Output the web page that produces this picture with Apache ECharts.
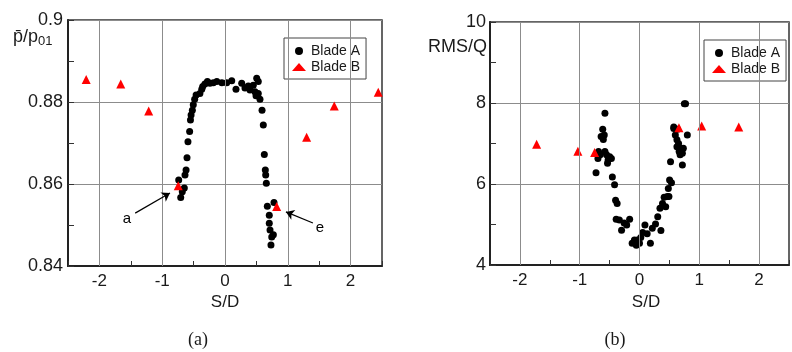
<!DOCTYPE html>
<html>
<head>
<meta charset="utf-8">
<script src="https://cdn.jsdelivr.net/npm/echarts@6/dist/echarts.min.js"></script>
<style>
html,body{margin:0;padding:0;background:#fff;}
#chart{width:792px;height:352px;}
</style>
</head>
<body>
<div id="chart"></div>
<script>
// (a) mean pressure p/p01 against S/D
var bladeA_p = [
	[-0.705,0.8567],[-0.68,0.8581],[-0.648,0.8590],[-0.737,0.8610],[-0.637,0.8622],[-0.62,0.8634],
	[-0.605,0.8664],[-0.59,0.8703],[-0.563,0.8728],[-0.55,0.8756],[-0.54,0.8768],[-0.52,0.8780],
	[-0.505,0.8793],[-0.483,0.8807],[-0.46,0.8817],[-0.40,0.8821],[-0.37,0.8831],[-0.355,0.8838],
	[-0.32,0.8844],[-0.28,0.8850],[-0.24,0.8846],[-0.186,0.8847],[-0.13,0.8850],[-0.05,0.8847],
	[0.027,0.8847],[0.107,0.8852],[0.175,0.8831],[0.266,0.8846],[0.318,0.8834],[0.371,0.8839],
	[0.398,0.8829],[0.45,0.8841],[0.478,0.8825],[0.505,0.8858],[0.53,0.8850],[0.494,0.8815],
	[0.53,0.8821],[0.557,0.8807],[0.59,0.8780],[0.61,0.8744],[0.626,0.8672],[0.642,0.8634],
	[0.648,0.8622],[0.658,0.8602],[0.674,0.8546],[0.78,0.8555],[0.705,0.8524],[0.705,0.8504],
	[0.717,0.8488],[0.77,0.8476],[0.744,0.8471],[0.732,0.8451]
]
var bladeB_p = [
	[-2.21,0.8855],[-1.66,0.8844],[-1.215,0.8778],[-0.744,0.8596],
	[0.823,0.8545],[1.30,0.8714],[1.74,0.8790],[2.44,0.8824]
]
// (b) RMS/Q against S/D
var bladeA_rms = [
	[-0.578,7.75],[-0.615,7.35],[-0.642,7.17],[-0.589,7.21],[-0.605,7.10],[-0.685,6.80],
	[-0.695,6.63],[-0.658,6.72],[-0.727,6.28],[-0.578,6.80],[-0.551,6.72],[-0.525,6.59],
	[-0.498,6.67],[-0.47,6.63],[-0.535,6.51],[-0.454,6.17],[-0.417,5.98],[-0.40,5.60],
	[-0.374,5.52],[-0.39,5.13],[-0.337,5.11],[-0.30,4.86],[-0.257,5.04],[-0.214,4.99],
	[-0.165,5.13],[-0.123,4.54],[-0.085,4.62],[-0.053,4.49],[-0.032,4.62],[0.0,4.54],
	[0.021,4.68],[0.053,4.80],[0.091,4.99],[0.128,4.77],[0.182,4.54],[0.214,4.91],
	[0.268,5.01],[0.305,5.19],[0.358,4.85],[0.342,5.40],[0.385,5.52],[0.412,5.67],
	[0.438,5.44],[0.465,5.69],[0.492,5.69],[0.482,5.89],[0.503,6.10],[0.535,6.03],
	[0.519,6.55],[0.573,7.37],[0.599,7.21],[0.626,7.09],[0.626,6.92],[0.653,7.00],
	[0.663,6.80],[0.679,6.72],[0.695,6.88],[0.717,6.76],[0.733,6.88],[0.717,6.47],
	[0.77,7.98],[0.75,7.98],[0.80,7.21],[0.637,7.35],[0.573,7.41]
]
var bladeB_rms = [
	[-1.72,6.98],[-1.03,6.81],[-0.75,6.78],[0.66,7.39],[1.04,7.43],[1.66,7.41]
]
var xGridValues = [-2,-1,0,1,2]
// annotation arrows in (a): tail -> head, and letter positions
var arrowA = [[-1.43,0.8529],[-0.876,0.8578]]
var arrowE = [[1.40,0.8505],[0.97,0.8532]]
var letterA = [-1.56,0.8514]
var letterE = [1.51,0.8492]

var font = 'Liberation Sans'
var ink = '#1a1a1a'

function xAxisOpt(idx){
	return {
		type: 'value', gridIndex: idx, min: -2.5, max: 2.5, interval: 0.5,
		axisLine: {show: true, onZero: false, lineStyle: {color: '#222', width: 2}},
		axisTick: {show: true, inside: true, length: 5, lineStyle: {color: '#333'}},
		axisLabel: {
			color: ink, fontFamily: font, fontSize: 17, margin: 7,
			formatter: function(v){ return Number.isInteger(v) ? String(v) : '' }
		},
		splitLine: {show: false}
	}
}
function yAxisOpt(idx, min, max, interval, margin){
	return {
		type: 'value', gridIndex: idx, min: min, max: max, interval: interval,
		axisLine: {show: true, onZero: false, lineStyle: {color: '#222', width: 2}},
		axisTick: {show: true, inside: true, length: 6, lineStyle: {color: '#333'}},
		minorTick: {show: true, splitNumber: 2, length: 6, lineStyle: {color: '#333'}},
		axisLabel: {color: ink, fontFamily: font, fontSize: 18, margin: margin},
		splitLine: {show: true, lineStyle: {color: '#8c8c8c', width: 1}}
	}
}
function gridLines(idx){
	return {
		name: 'grid' + idx, type: 'scatter', xAxisIndex: idx, yAxisIndex: idx, data: [], z: 1,
		silent: true,
		markLine: {
			silent: true, symbol: ['none','none'], label: {show: false},
			lineStyle: {color: '#8c8c8c', width: 1, type: 'solid'},
			data: xGridValues.map(function(v){ return {xAxis: v} })
		}
	}
}
function legendOpt(left, top){
	return {
		left: left, top: top, orient: 'vertical',
		borderColor: '#444', borderWidth: 1, backgroundColor: '#fff',
		padding: [6,6,5,8], itemGap: 2, itemWidth: 14, itemHeight: 8,
		textStyle: {color: ink, fontFamily: font, fontSize: 14},
		data: [{name: 'Blade A', icon: 'circle'}, {name: 'Blade B', icon: 'triangle'}]
	}
}

var chart = echarts.init(document.getElementById('chart'))
var option = {
	animation: false,
	backgroundColor: '#fff',
	grid: [
		{left: 68, top: 20, width: 314, height: 246, show: true, borderColor: '#333', borderWidth: 1.5},
		{left: 490, top: 22, width: 312, height: 243, show: true, borderColor: '#333', borderWidth: 1.5}
	],
	xAxis: [xAxisOpt(0), xAxisOpt(1)],
	yAxis: [yAxisOpt(0, 0.84, 0.9, 0.02, 5), yAxisOpt(1, 4, 10, 2, 4)],
	legend: [legendOpt(284, 38), legendOpt(704, 40)],
	series: [
		gridLines(0),
		gridLines(1),
		{
			name: 'Blade A', type: 'scatter', xAxisIndex: 0, yAxisIndex: 0, z: 3,
			symbol: 'circle', symbolSize: 7, itemStyle: {color: '#000', opacity: 1}, data: bladeA_p
		},
		{
			name: 'Blade B', type: 'scatter', xAxisIndex: 0, yAxisIndex: 0, z: 4,
			symbol: 'triangle', symbolSize: 9, itemStyle: {color: '#f00', opacity: 1}, data: bladeB_p
		},
		{
			name: 'Blade A', type: 'scatter', xAxisIndex: 1, yAxisIndex: 1, z: 3,
			symbol: 'circle', symbolSize: 7, itemStyle: {color: '#000', opacity: 1}, data: bladeA_rms
		},
		{
			name: 'Blade B', type: 'scatter', xAxisIndex: 1, yAxisIndex: 1, z: 4,
			symbol: 'triangle', symbolSize: 9, itemStyle: {color: '#f00', opacity: 1}, data: bladeB_rms
		},
		{
			name: 'notes', type: 'scatter', xAxisIndex: 0, yAxisIndex: 0, data: [], z: 5,
			silent: true,
			markLine: {
				silent: true, symbol: ['none','arrow'], symbolSize: 8, label: {show: false},
				lineStyle: {color: '#000', width: 1.2, type: 'solid'},
				data: [
					[{coord: arrowA[0]}, {coord: arrowA[1]}],
					[{coord: arrowE[0]}, {coord: arrowE[1]}]
				]
			},
			markPoint: {
				silent: true, symbol: 'circle', symbolSize: 1,
				itemStyle: {color: 'rgba(0,0,0,0)'},
				label: {show: true, position: 'inside', formatter: '{b}', color: '#000', fontFamily: font, fontSize: 15},
				data: [{name: 'a', coord: letterA}, {name: 'e', coord: letterE}]
			}
		}
	],
	graphic: [
		{
			type: 'text', left: 13, top: 28,
			style: {
				text: '{p|p\u0304/p}{s|01}',
				rich: {
					p: {fontFamily: font, fontSize: 18, fill: ink},
					s: {fontFamily: font, fontSize: 13, fill: ink, verticalAlign: 'bottom', padding: [8,0,0,0]}
				}
			}
		},
		{
			type: 'text', right: 305, top: 38,
			style: {text: 'RMS/Q', fontFamily: font, fontSize: 18, fill: ink}
		},
		{
			type: 'text', x: 225, y: 302,
			style: {text: 'S/D', fontFamily: font, fontSize: 17, fill: ink, align: 'center', verticalAlign: 'middle'}
		},
		{
			type: 'text', x: 646, y: 302,
			style: {text: 'S/D', fontFamily: font, fontSize: 17, fill: ink, align: 'center', verticalAlign: 'middle'}
		},
		{
			type: 'text', x: 198, y: 340,
			style: {text: '(a)', fontFamily: 'Liberation Serif', fontSize: 18, fill: ink, align: 'center', verticalAlign: 'middle'}
		},
		{
			type: 'text', x: 615, y: 340,
			style: {text: '(b)', fontFamily: 'Liberation Serif', fontSize: 18, fill: ink, align: 'center', verticalAlign: 'middle'}
		}
	]
}
chart.setOption(option)
</script>
</body>
</html>
